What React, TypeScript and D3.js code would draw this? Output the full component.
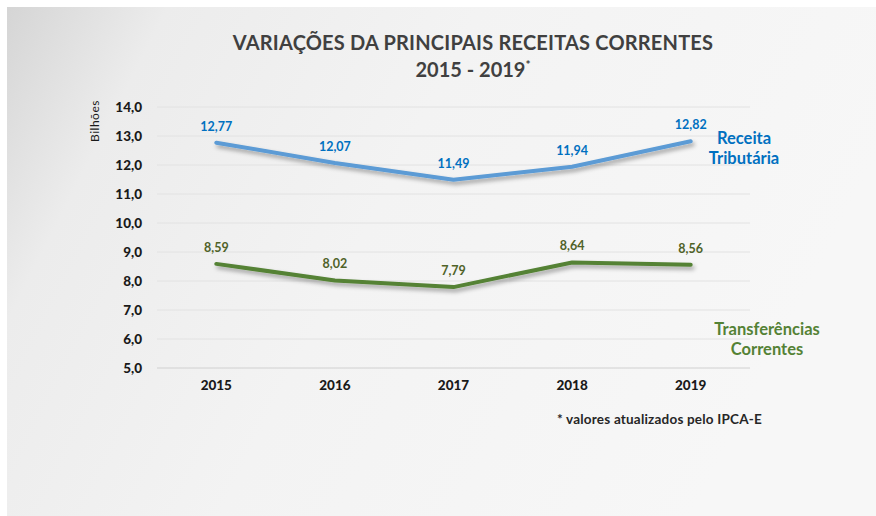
import { useEffect, useRef } from 'react';
import * as d3 from 'd3';

const width = 876;
const height = 516;

const years = ['2015', '2016', '2017', '2018', '2019'];
const receitaTributaria = [12.77, 12.07, 11.49, 11.94, 12.82];
const transferencias = [8.59, 8.02, 7.79, 8.64, 8.56];
const yTicks = [5, 6, 7, 8, 9, 10, 11, 12, 13, 14];

const font = 'Lato, "Open Sans", sans-serif';
const fmt = (v: number) => v.toFixed(2).replace('.', ',');

export default function App() {
    const ref = useRef<SVGSVGElement | null>(null);

    useEffect(() => {
        document.body.style.margin = '0';
        const svg = d3.select(ref.current);
        svg.selectAll('*').remove();

        const defs = svg.append('defs');
        const grad = defs
            .append('linearGradient')
            .attr('id', 'bg')
            .attr('x1', '0')
            .attr('y1', '0')
            .attr('x2', '1')
            .attr('y2', '0.3');
        grad.append('stop').attr('offset', '0').attr('stop-color', '#d5d5d5');
        grad.append('stop').attr('offset', '0.17').attr('stop-color', '#ececec');
        grad.append('stop').attr('offset', '0.5').attr('stop-color', '#f3f3f3');
        grad.append('stop').attr('offset', '1').attr('stop-color', '#f7f7f7');

        defs.append('filter')
            .attr('id', 'shadow')
            .attr('x', '-10%')
            .attr('y', '-50%')
            .attr('width', '120%')
            .attr('height', '200%')
            .append('feDropShadow')
            .attr('dx', 2)
            .attr('dy', 3)
            .attr('stdDeviation', 2)
            .attr('flood-color', '#000')
            .attr('flood-opacity', 0.35);

        // fundo
        svg.append('rect').attr('width', width).attr('height', height).attr('fill', '#fff');
        svg.append('rect')
            .attr('x', 7)
            .attr('y', 7)
            .attr('width', width - 7)
            .attr('height', height - 7)
            .attr('fill', 'url(#bg)');

        // escalas
        const x = d3.scaleBand<string>().domain(years).range([157, 750]);
        const y = d3.scaleLinear().domain([5, 14]).range([368, 107]);
        const cx = (d: string) => (x(d) as number) + x.bandwidth() / 2;

        // grid
        svg.append('g')
            .selectAll('line')
            .data(yTicks)
            .join('line')
            .attr('x1', 157)
            .attr('x2', 750)
            .attr('y1', (d) => y(d))
            .attr('y2', (d) => y(d))
            .attr('stroke', (d) => (d === 5 ? '#d0d0d0' : '#e2e2e2'))
            .attr('stroke-width', 1);

        // eixo y
        svg.append('g')
            .selectAll('text')
            .data(yTicks)
            .join('text')
            .attr('x', 142)
            .attr('y', (d) => y(d))
            .attr('dy', '0.35em')
            .attr('text-anchor', 'end')
            .attr('font-family', font)
            .attr('font-weight', 900)
            .attr('font-size', 13.5)
            .attr('fill', '#1a1a1a')
            .text((d) => d.toFixed(1).replace('.', ','));

        svg.append('text')
            .attr('transform', 'translate(99,121) rotate(-90)')
            .attr('text-anchor', 'middle')
            .attr('font-family', font)
            .attr('font-size', 12)
            .attr('letter-spacing', 0.5)
            .attr('fill', '#1a1a1a')
            .text('Bilhões');

        // eixo x
        svg.append('g')
            .selectAll('text')
            .data(years)
            .join('text')
            .attr('x', cx)
            .attr('y', 390)
            .attr('text-anchor', 'middle')
            .attr('font-family', font)
            .attr('font-weight', 900)
            .attr('font-size', 13.5)
            .attr('fill', '#1a1a1a')
            .text((d) => d);

        const line = d3
            .line<number>()
            .x((_, i) => cx(years[i]))
            .y((d) => y(d));

        const series = [
            { values: receitaTributaria, stroke: '#5b9bd5', label: '#0070c0' },
            { values: transferencias, stroke: '#548235', label: '#4f6228' }
        ];

        series.forEach((s) => {
            svg.append('path')
                .attr('d', line(s.values))
                .attr('fill', 'none')
                .attr('stroke', s.stroke)
                .attr('stroke-width', 4)
                .attr('stroke-linecap', 'round')
                .attr('stroke-linejoin', 'round')
                .attr('filter', 'url(#shadow)');

            svg.append('g')
                .selectAll('text')
                .data(s.values)
                .join('text')
                .attr('x', (_, i) => cx(years[i]))
                .attr('y', (d) => y(d) - 12)
                .attr('text-anchor', 'middle')
                .attr('font-family', font)
                .attr('font-weight', 'bold')
                .attr('font-size', 12.5)
                .attr('fill', s.label)
                .text((d) => fmt(d));
        });

        // rótulos das séries
        const seriesLabel = (lines: string[], px: number, py: number, color: string) => {
            const t = svg
                .append('text')
                .attr('text-anchor', 'middle')
                .attr('font-family', font)
                .attr('font-weight', 'bold')
                .attr('font-size', 16.5)
                .attr('fill', color);
            lines.forEach((l, i) => {
                t.append('tspan').attr('x', px).attr('y', py + i * 20).text(l);
            });
        };
        seriesLabel(['Receita', 'Tributária'], 744, 144, '#0070c0');
        seriesLabel(['Transferências', 'Correntes'], 767, 335, '#548235');

        // título
        svg.append('text')
            .attr('x', 473)
            .attr('y', 50)
            .attr('text-anchor', 'middle')
            .attr('font-family', font)
            .attr('font-weight', 'bold')
            .attr('font-size', 20)
            .attr('letter-spacing', 0.2)
            .attr('fill', '#404040')
            .text('VARIAÇÕES DA PRINCIPAIS RECEITAS CORRENTES');

        const sub = svg
            .append('text')
            .attr('x', 473)
            .attr('y', 77)
            .attr('text-anchor', 'middle')
            .attr('font-family', font)
            .attr('font-weight', 'bold')
            .attr('font-size', 20)
            .attr('fill', '#404040');
        sub.append('tspan').text('2015 - 2019');
        sub.append('tspan').attr('font-size', 12).attr('dy', -8).text('*');

        // nota
        svg.append('text')
            .attr('x', 557)
            .attr('y', 424)
            .attr('font-family', font)
            .attr('font-weight', 'bold')
            .attr('font-size', 13.5)
            .attr('letter-spacing', 0.2)
            .attr('fill', '#262626')
            .text('* valores atualizados pelo IPCA-E');
    }, []);

    return <svg ref={ref} width={width} height={height} style={{ display: 'block' }} />;
}
